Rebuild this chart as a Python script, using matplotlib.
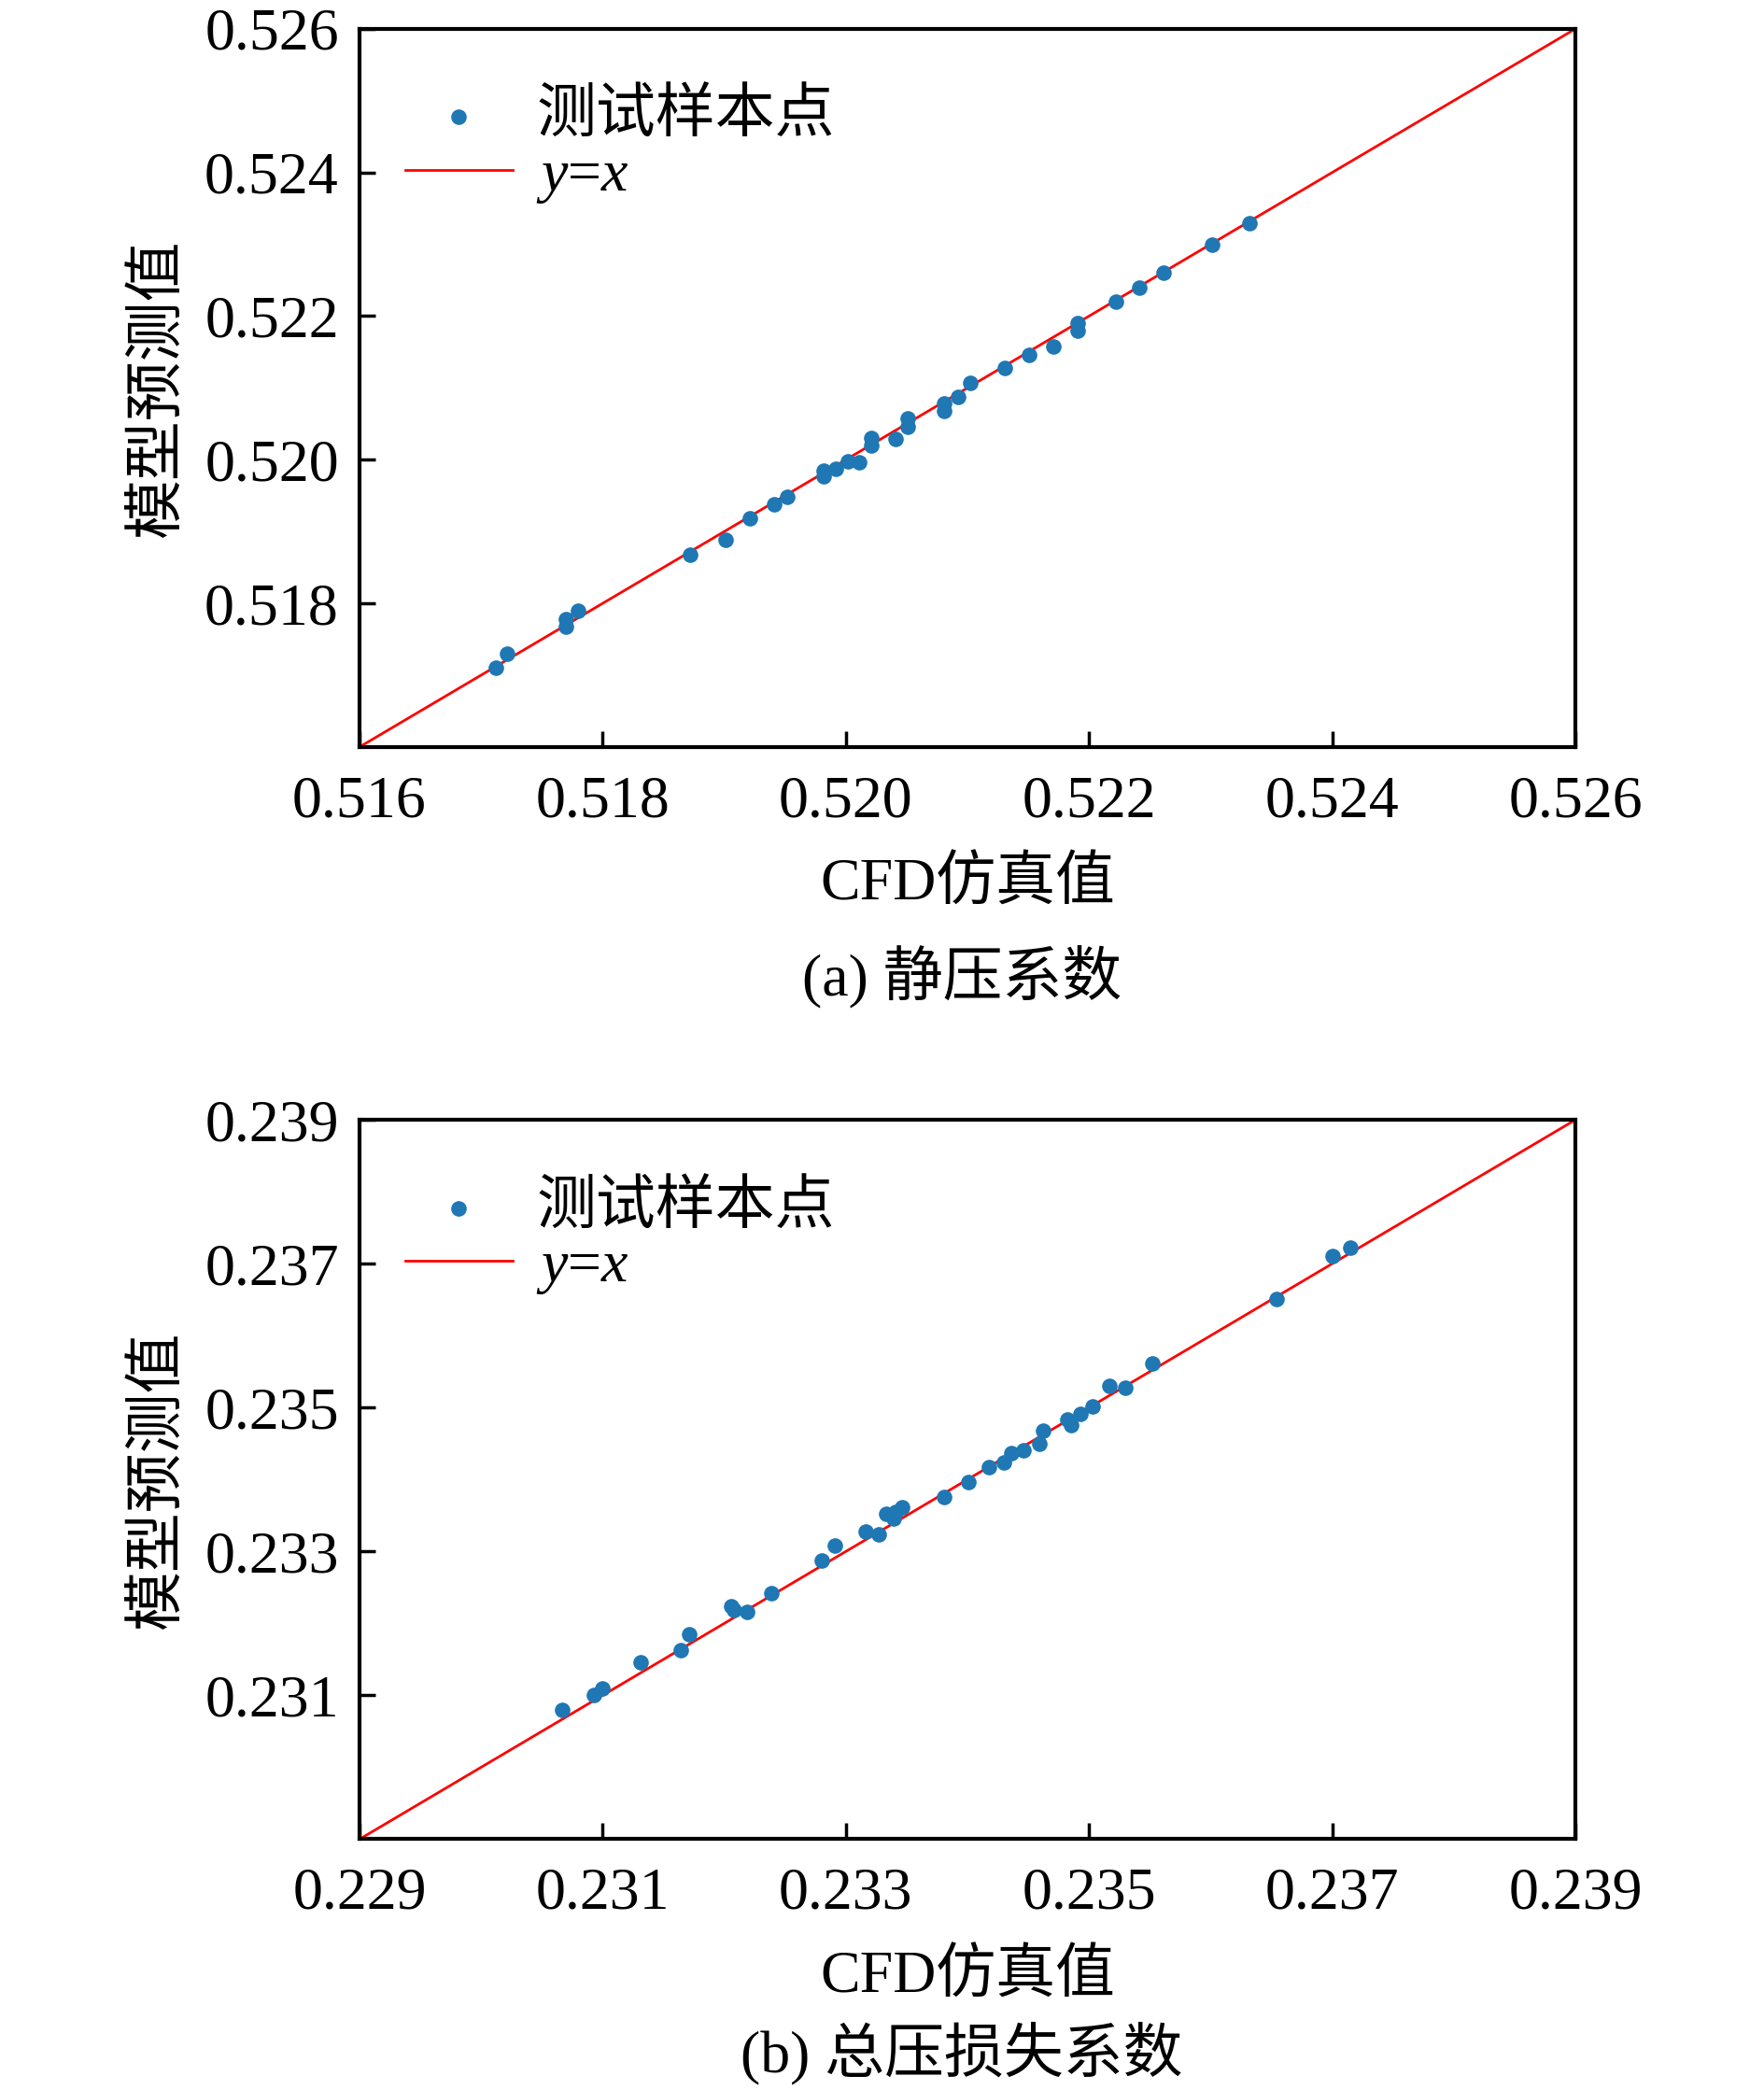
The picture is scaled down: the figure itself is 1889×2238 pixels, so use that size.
import matplotlib
matplotlib.use('Agg')
import matplotlib.pyplot as plt

plt.rcParams['font.family'] = ['Liberation Serif', 'Noto Sans CJK SC']
plt.rcParams['mathtext.fontset'] = 'custom'
plt.rcParams['mathtext.it'] = 'Liberation Serif:italic'
plt.rcParams['mathtext.rm'] = 'Liberation Serif'

# (a) static pressure coefficient: CFD value vs model prediction
cfd_a = [0.51712, 0.51721, 0.51770, 0.51770, 0.51780, 0.51872, 0.51901, 0.51921,
         0.51941, 0.51952, 0.51982, 0.51982, 0.51992, 0.52002, 0.52011, 0.52021,
         0.52021, 0.52041, 0.52051, 0.52051, 0.52081, 0.52081, 0.52092, 0.52102,
         0.52131, 0.52151, 0.52171, 0.52191, 0.52191, 0.52222, 0.52241, 0.52261,
         0.52301, 0.52332]
pred_a = [0.51710, 0.51730, 0.51778, 0.51768, 0.51790, 0.51868, 0.51888, 0.51918,
          0.51938, 0.51948, 0.51985, 0.51977, 0.51987, 0.51998, 0.51996, 0.52030,
          0.52020, 0.52029, 0.52057, 0.52046, 0.52078, 0.52068, 0.52087, 0.52107,
          0.52128, 0.52146, 0.52158, 0.52190, 0.52180, 0.52220, 0.52240, 0.52260,
          0.52299, 0.52329]

# (b) total pressure loss coefficient
cfd_b = [0.23067, 0.23093, 0.23100, 0.23131, 0.23164, 0.23171, 0.23206, 0.23208,
         0.23219, 0.23239, 0.23280, 0.23291, 0.23316, 0.23327, 0.23333, 0.23341,
         0.23339, 0.23346, 0.23381, 0.23401, 0.23418, 0.23430, 0.23436, 0.23446,
         0.23459, 0.23462, 0.23482, 0.23485, 0.23493, 0.23503, 0.23517, 0.23530,
         0.23552, 0.23654, 0.23700, 0.23715]
pred_b = [0.23080, 0.23100, 0.23110, 0.23146, 0.23163, 0.23185, 0.23224, 0.23218,
          0.23216, 0.23242, 0.23287, 0.23308, 0.23328, 0.23324, 0.23352, 0.23355,
          0.23346, 0.23361, 0.23376, 0.23396, 0.23417, 0.23424, 0.23437, 0.23441,
          0.23450, 0.23468, 0.23483, 0.23476, 0.23491, 0.23502, 0.23530, 0.23528,
          0.23561, 0.23651, 0.23710, 0.23722]

lim_a = [0.516, 0.526]
lim_b = [0.229, 0.239]
xticks_a = [0.516, 0.518, 0.520, 0.522, 0.524, 0.526]
yticks_a = [0.518, 0.520, 0.522, 0.524, 0.526]
xticks_b = [0.229, 0.231, 0.233, 0.235, 0.237, 0.239]
yticks_b = [0.231, 0.233, 0.235, 0.237, 0.239]

fs = 46

fig = plt.figure(figsize=(18.9, 22.38), dpi=100)
ax1 = fig.add_axes([0.2037, 0.6426, 0.6889, 0.3436])
ax2 = fig.add_axes([0.2037, 0.1200, 0.6889, 0.3442])

panels = [
    (ax1, cfd_a, pred_a, lim_a, xticks_a, yticks_a),
    (ax2, cfd_b, pred_b, lim_b, xticks_b, yticks_b),
]

for ax, xs, ys, lim, xt, yt in panels:
    ax.scatter(xs, ys, s=120, color='#1f77b4', label='测试样本点', zorder=3)
    ax.plot(lim, lim, color='red', lw=2, label='$y$=$x$', zorder=2)
    ax.set_xlim(lim)
    ax.set_ylim(lim)
    ax.set_xticks(xt)
    ax.set_yticks(yt)
    ax.set_xticklabels(['%.3f' % v for v in xt])
    ax.set_yticklabels(['%.3f' % v for v in yt])
    ax.tick_params(direction='in', length=12, width=2.5, labelsize=fs)
    ax.tick_params(axis='x', pad=22)
    ax.tick_params(axis='y', pad=16)
    for sp in ax.spines.values():
        sp.set_linewidth(3)
    ax.set_xlabel('CFD仿真值', fontsize=fs, labelpad=22)
    ax.set_ylabel('模型预测值', fontsize=fs, labelpad=14)
    ax.legend(loc='upper left', frameon=False, fontsize=fs, handlelength=1.8,
              handletextpad=0.4, borderaxespad=0.3, labelspacing=0.05,
              bbox_to_anchor=(0.003, 0.972))

fig.text(0.545, 0.5325, '(a) 静压系数', fontsize=fs, ha='center', va='center')
fig.text(0.545, 0.0175, '(b) 总压损失系数', fontsize=fs, ha='center', va='center')

fig.savefig('out.png', dpi=100)
